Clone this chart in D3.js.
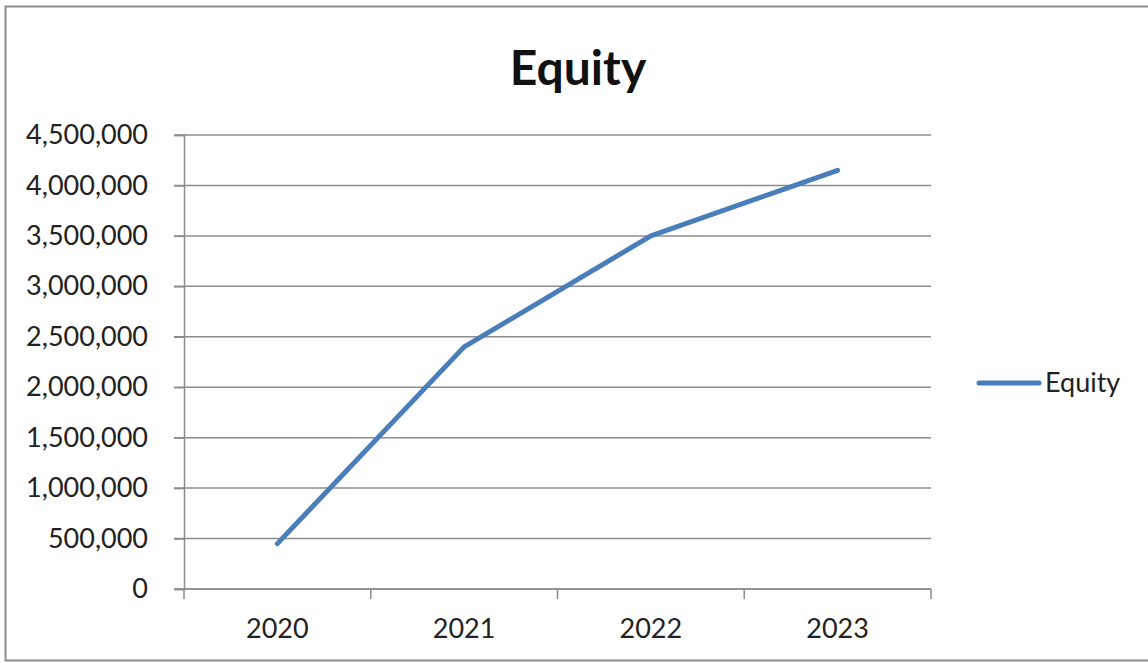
<!DOCTYPE html>
<html>
<head>
<meta charset="utf-8">
<script src="https://cdn.jsdelivr.net/npm/d3@7"></script>
<style>
  body { margin: 0; background: #fff; }
  text { font-family: Lato, "Open Sans", sans-serif; fill: #222; }
</style>
</head>
<body>
<div id="chart"></div>
<script>
// chart data
var years = ["2020", "2021", "2022", "2023"];
var equity = [450000, 2400000, 3500000, 4150000];
var yTicks = [0, 500000, 1000000, 1500000, 2000000, 2500000, 3000000, 3500000, 4000000, 4500000];

var W = 1148, H = 663;
var plotLeft = 184, plotRight = 931, plotTop = 135, plotBottom = 589;

var svg = d3.select("#chart")
  .append("svg")
  .attr("width", W)
  .attr("height", H);

// outer frame
svg.append("rect")
  .attr("x", 5.5).attr("y", 6.5)
  .attr("width", W + 10).attr("height", 654)
  .style("fill", "none")
  .style("stroke", "#8c8c8c")
  .style("stroke-width", 2);

var x = d3.scaleBand().domain(years).range([plotLeft, plotRight]);
var y = d3.scaleLinear().domain([0, 4500000]).range([plotBottom, plotTop]);

// gridlines
svg.append("g")
  .selectAll("line")
  .data(yTicks)
  .enter().append("line")
  .attr("x1", plotLeft - 10)
  .attr("x2", plotRight)
  .attr("y1", function(d) { return y(d); })
  .attr("y2", function(d) { return y(d); })
  .style("stroke", "#8c8c8c")
  .style("stroke-width", 1.5);

// y axis
var yAxis = svg.append("g")
  .attr("transform", "translate(" + plotLeft + ",0)")
  .call(d3.axisLeft(y).tickValues(yTicks).tickSize(10).tickPadding(26).tickFormat(d3.format(",")));
yAxis.select(".domain").style("stroke", "#8c8c8c").style("stroke-width", 1.5);
yAxis.selectAll(".tick line").style("stroke", "#8c8c8c").style("stroke-width", 1.5);
yAxis.selectAll("text").style("font-size", "27px").style("font-family", "Lato, sans-serif").style("fill", "#222");

// x axis with ticks between categories
var xAxis = svg.append("g")
  .attr("transform", "translate(0," + plotBottom + ")");
xAxis.append("line")
  .attr("x1", plotLeft).attr("x2", plotRight)
  .style("stroke", "#8c8c8c").style("stroke-width", 1.5);
xAxis.selectAll(".xtick")
  .data(years.concat(["end"]))
  .enter().append("line")
  .attr("class", "xtick")
  .attr("x1", function(d, i) { return plotLeft + i * x.bandwidth(); })
  .attr("x2", function(d, i) { return plotLeft + i * x.bandwidth(); })
  .attr("y1", 0).attr("y2", 10)
  .style("stroke", "#8c8c8c").style("stroke-width", 1.5);
xAxis.selectAll(".xlabel")
  .data(years)
  .enter().append("text")
  .attr("class", "xlabel")
  .attr("x", function(d) { return x(d) + x.bandwidth() / 2; })
  .attr("y", 49)
  .attr("text-anchor", "middle")
  .style("font-size", "27px")
  .text(function(d) { return d; });

// the line
var line = d3.line()
  .x(function(d, i) { return x(years[i]) + x.bandwidth() / 2; })
  .y(function(d) { return y(d); });

svg.append("path")
  .datum(equity)
  .attr("d", line)
  .style("fill", "none")
  .style("stroke", "#4a7ebb")
  .style("stroke-width", 5)
  .style("stroke-linecap", "round")
  .style("stroke-linejoin", "round");

// title
svg.append("text")
  .attr("x", 578)
  .attr("y", 85)
  .attr("text-anchor", "middle")
  .style("font-size", "48px")
  .style("font-weight", "bold")
  .style("fill", "#111")
  .text("Equity");

// legend
svg.append("line")
  .attr("x1", 979).attr("x2", 1039)
  .attr("y1", 383).attr("y2", 383)
  .style("stroke", "#4a7ebb")
  .style("stroke-width", 5)
  .style("stroke-linecap", "round");
svg.append("text")
  .attr("x", 1045)
  .attr("y", 392)
  .style("font-size", "27px")
  .text("Equity");
</script>
</body>
</html>
